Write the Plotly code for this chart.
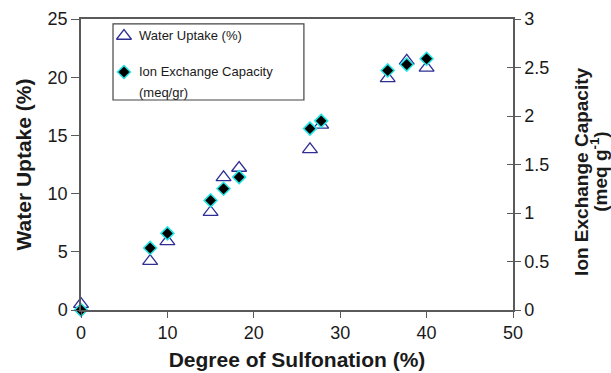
import plotly.graph_objects as go

# Degree of sulfonation (%) for each membrane sample
sulfonation = [0, 8, 10, 15, 16.5, 18.3, 26.5, 27.8, 35.5, 37.7, 40]
# Water uptake (%)
water_uptake = [0.5, 4.2, 5.9, 8.4, 11.4, 12.2, 13.8, 15.9, 19.9, 21.4, 20.8]
# Ion exchange capacity (meq/g)
iec = [0, 0.64, 0.79, 1.13, 1.25, 1.37, 1.87, 1.95, 2.47, 2.53, 2.59]

x_ticks = [0, 10, 20, 30, 40, 50]
y_ticks = [0, 5, 10, 15, 20, 25]
y2_ticks = [0, 0.5, 1, 1.5, 2, 2.5, 3]

series_names = ["Water Uptake (%)", "Ion Exchange Capacity", "(meq/gr)"]

FONT = "Arial, Liberation Sans, sans-serif"
AXIS_COLOR = "#5a5a5a"
TEXT_COLOR = "#1a1a1a"

tri_marker = dict(symbol="triangle-up-open", size=13, color="#2e2e94",
                  line=dict(width=1.3, color="#2e2e94"))
dia_marker = dict(symbol="diamond", size=10, color="black",
                  line=dict(width=1.5, color="#22e5e5"))

fig = go.Figure()

fig.add_trace(go.Scatter(
    x=sulfonation, y=water_uptake, mode="markers", name=series_names[0],
    marker=tri_marker, yaxis="y", showlegend=False, cliponaxis=False,
))
fig.add_trace(go.Scatter(
    x=sulfonation, y=iec, mode="markers",
    name=series_names[1] + " " + series_names[2],
    marker=dia_marker, yaxis="y2", showlegend=False, cliponaxis=False,
))

# legend symbols, placed on a hidden 0..1 axis pair over the plot area
legend_sym_x = 0.0995
fig.add_trace(go.Scatter(x=[legend_sym_x], y=[0.9416], mode="markers",
                         marker=tri_marker, xaxis="x2", yaxis="y4",
                         showlegend=False, hoverinfo="skip"))
fig.add_trace(go.Scatter(x=[legend_sym_x], y=[0.8179], mode="markers",
                         marker=dia_marker, xaxis="x2", yaxis="y4",
                         showlegend=False, hoverinfo="skip"))
# invisible trace that activates the inner tick axis on the right
fig.add_trace(go.Scatter(x=[None], y=[None], yaxis="y3", showlegend=False,
                         hoverinfo="skip"))

legend_text_x = 0.1296
annotations = [
    dict(text=series_names[0], x=legend_text_x, y=0.9416),
    dict(text=series_names[1], x=legend_text_x, y=0.8179),
    dict(text=series_names[2], x=legend_text_x, y=0.7491),
]
annotations = [dict(a, xref="paper", yref="paper", xanchor="left",
                    yanchor="middle", showarrow=False,
                    font=dict(size=13, color=TEXT_COLOR, family=FONT))
               for a in annotations]

# right axis title, two tightly spaced rotated lines
annotations += [
    dict(text="<b>Ion Exchange Capacity</b>", x=1.1600, y=0.475),
    dict(text="<b>(meq g<sup>-1</sup>)</b>", x=1.1990, y=0.475),
]
for a in annotations[-2:]:
    a.update(xref="paper", yref="paper", xanchor="center", yanchor="middle",
             textangle=-90, showarrow=False, borderpad=0,
             font=dict(size=19, color=TEXT_COLOR, family=FONT))

fig.update_layout(
    width=611, height=373,
    margin=dict(l=81, r=98, t=19, b=63, autoexpand=False),
    paper_bgcolor="white", plot_bgcolor="white",
    font=dict(family=FONT, size=18, color=TEXT_COLOR),
    showlegend=False,
    annotations=annotations,
    shapes=[dict(type="rect", xref="paper", yref="paper",
                 x0=0.0741, x1=0.516, y0=0.7216, y1=0.983,
                 line=dict(color="#444444", width=1.2))],
    xaxis=dict(
        range=[0, 50], tickvals=x_ticks, ticks="outside", ticklen=6,
        tickcolor=AXIS_COLOR, showline=True, linecolor=AXIS_COLOR,
        linewidth=1.5, mirror=True, showgrid=False, zeroline=False,
        tickfont=dict(size=18), automargin=False,
        title=dict(text="<b>Degree of Sulfonation (%)</b>",
                   font=dict(size=21, color=TEXT_COLOR), standoff=10),
    ),
    yaxis=dict(
        range=[0, 25], tickvals=y_ticks, ticks="outside", ticklen=8,
        tickcolor=AXIS_COLOR, showline=True, linecolor=AXIS_COLOR,
        linewidth=1.5, showgrid=False, zeroline=False,
        tickfont=dict(size=18), automargin=False,
        title=dict(text="<b>Water Uptake (%)</b>",
                   font=dict(size=21, color=TEXT_COLOR), standoff=10),
    ),
    yaxis2=dict(
        range=[0, 3], tickvals=y2_ticks, overlaying="y", side="right",
        ticks="outside", ticklen=6, tickcolor=AXIS_COLOR,
        showline=True, linecolor=AXIS_COLOR, linewidth=1.5,
        showgrid=False, zeroline=False, tickfont=dict(size=18),
        automargin=False,
    ),
    yaxis3=dict(
        range=[0, 3], tickvals=y2_ticks, overlaying="y", side="right",
        ticks="inside", ticklen=6, tickcolor=AXIS_COLOR,
        showticklabels=False, showline=False, showgrid=False,
        zeroline=False, automargin=False,
    ),
    xaxis2=dict(range=[0, 1], overlaying="x", visible=False),
    yaxis4=dict(range=[0, 1], overlaying="y", visible=False),
)

fig.write_html("out.html")
